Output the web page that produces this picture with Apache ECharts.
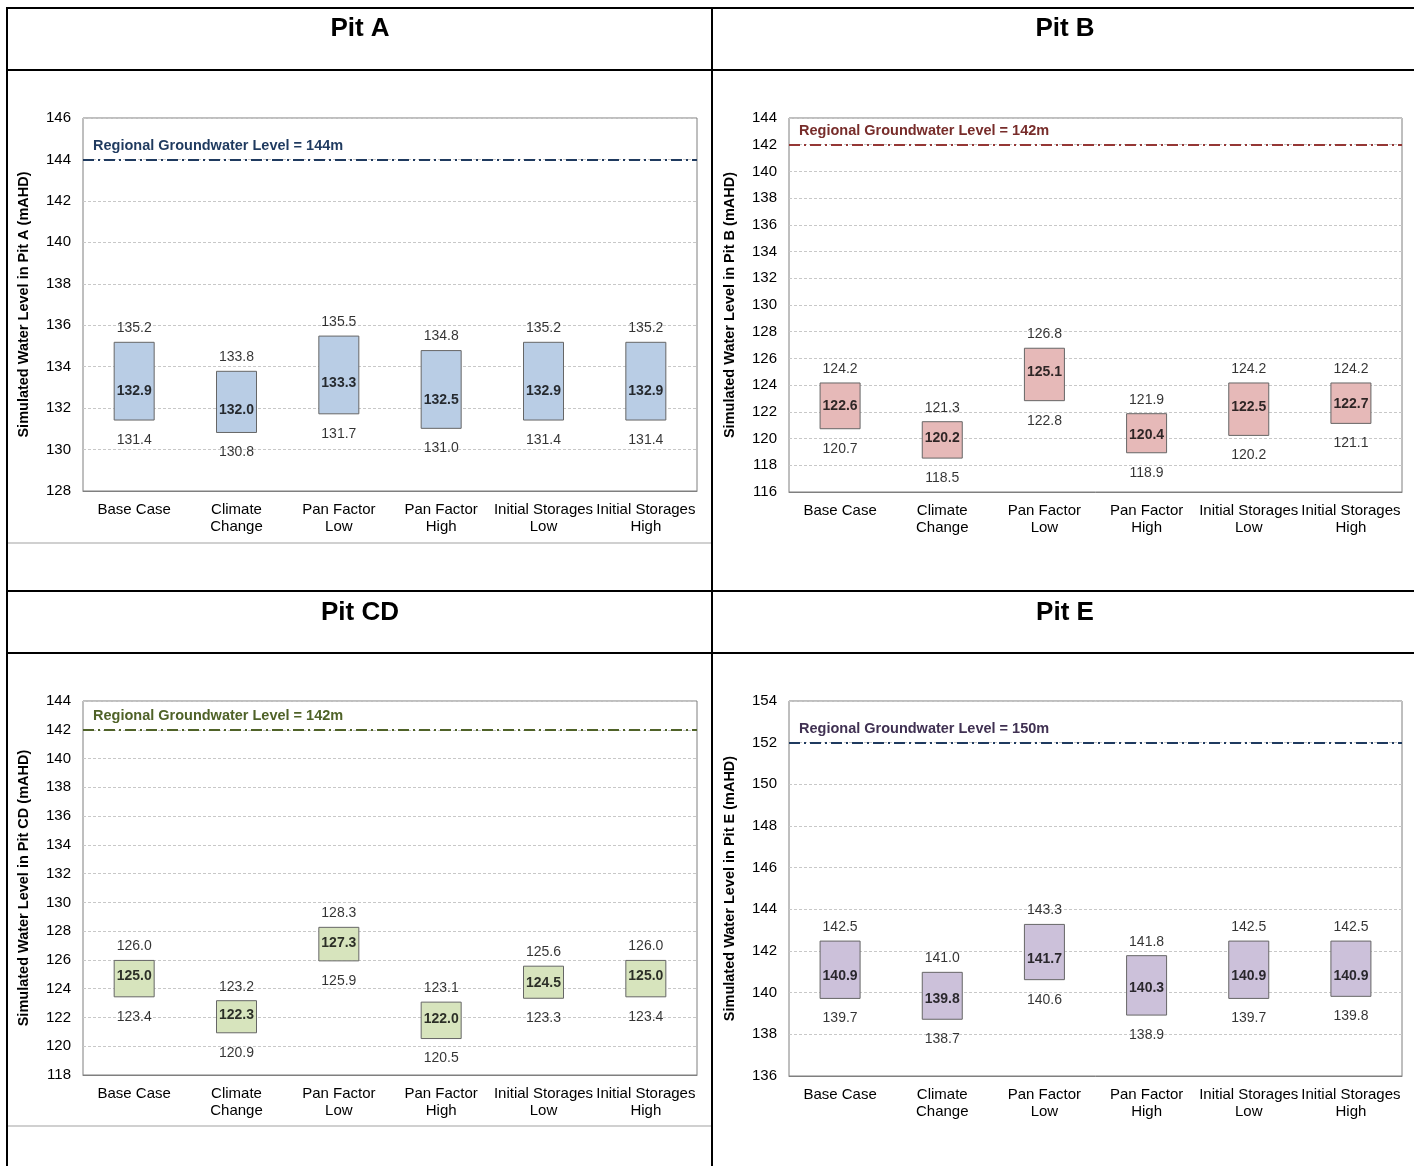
<!DOCTYPE html>
<html>
<head>
<meta charset="utf-8">
<script src="https://cdn.jsdelivr.net/npm/echarts@6/dist/echarts.min.js"></script>
<style>
html,body{margin:0;padding:0;background:#fff;}
#c{width:1414px;height:1166px;}
</style>
</head>
<body>
<div id="c"></div>
<script>
// ---- data ----
const categories = ['Base Case', 'Climate\nChange', 'Pan Factor\nLow', 'Pan Factor\nHigh', 'Initial Storages\nLow', 'Initial Storages\nHigh'];
const pitNames = ['Pit A', 'Pit B', 'Pit CD', 'Pit E'];

const pitAHigh = [135.2, 133.8, 135.5, 134.8, 135.2, 135.2];
const pitAMid  = [132.9, 132.0, 133.3, 132.5, 132.9, 132.9];
const pitALow  = [131.4, 130.8, 131.7, 131.0, 131.4, 131.4];

const pitBHigh = [124.2, 121.3, 126.8, 121.9, 124.2, 124.2];
const pitBMid  = [122.6, 120.2, 125.1, 120.4, 122.5, 122.7];
const pitBLow  = [120.7, 118.5, 122.8, 118.9, 120.2, 121.1];

const pitCDHigh = [126.0, 123.2, 128.3, 123.1, 125.6, 126.0];
const pitCDMid  = [125.0, 122.3, 127.3, 122.0, 124.5, 125.0];
const pitCDLow  = [123.4, 120.9, 125.9, 120.5, 123.3, 123.4];

const pitEHigh = [142.5, 141.0, 143.3, 141.8, 142.5, 142.5];
const pitEMid  = [140.9, 139.8, 141.7, 140.3, 140.9, 140.9];
const pitELow  = [139.7, 138.7, 140.6, 138.9, 139.7, 139.8];

const refLineValues = [144, 142, 142, 152];
const refLineLabels = ['144m', '142m', '142m', '150m'];
const yMins = [128, 116, 118, 136];
const yMaxs = [146, 144, 144, 154];

// ---- styles ----
const FONT = "'Liberation Sans', Arial, sans-serif";
const highs = [pitAHigh, pitBHigh, pitCDHigh, pitEHigh];
const mids = [pitAMid, pitBMid, pitCDMid, pitEMid];
const lows = [pitALow, pitBLow, pitCDLow, pitELow];
const fills = ['#B9CDE5', '#E6B9B8', '#D7E4BD', '#CCC1DA'];
const lineColors = ['#1F3A5F', '#953735', '#4F6228', '#1F3A5F'];
const refTextColors = ['#1F3A5F', '#772C2A', '#4F6228', '#403152'];
const grids = [
  {left: 83, top: 118, width: 614, height: 373},
  {left: 789, top: 118, width: 613, height: 374},
  {left: 83, top: 701, width: 614, height: 374},
  {left: 789, top: 701, width: 613, height: 375}
];
const titlePos = [[360, 29], [1065, 29], [360, 613], [1065, 613]];

const option = {
  backgroundColor: '#fff',
  animation: false,
  grid: [], xAxis: [], yAxis: [], series: [],
  graphic: []
};

const fmt = v => Number(v).toFixed(1);

for (let i = 0; i < 4; i++) {
  option.grid.push(Object.assign({show: true, borderColor: '#7F7F7F', borderWidth: 1, backgroundColor: 'transparent'}, grids[i]));
  option.xAxis.push({
    type: 'category', gridIndex: i, data: categories,
    axisLine: {show: true, lineStyle: {color: '#7F7F7F'}},
    axisTick: {show: false},
    axisLabel: {interval: 0, color: '#000', fontFamily: FONT, fontSize: 15, lineHeight: 17, margin: 10},
    splitLine: {show: false}
  });
  option.yAxis.push({
    type: 'value', gridIndex: i, min: yMins[i], max: yMaxs[i], interval: 2,
    name: 'Simulated Water Level in ' + pitNames[i] + ' (mAHD)',
    nameLocation: 'middle', nameGap: 52,
    nameTextStyle: {fontFamily: FONT, fontSize: 14.5, fontWeight: 'bold', color: '#000'},
    axisLine: {show: false}, axisTick: {show: false},
    axisLabel: {color: '#000', fontFamily: FONT, fontSize: 15, margin: 12},
    splitLine: {show: true, lineStyle: {color: '#C8C8C8', type: [3, 2], width: 1}}
  });
  const hi = highs[i], mi = mids[i], lo = lows[i];
  // invisible base
  option.series.push({
    type: 'bar', xAxisIndex: i, yAxisIndex: i, stack: 'box' + i,
    data: lo, barWidth: 41, silent: true,
    itemStyle: {color: 'transparent'},
    markLine: {
      silent: true, symbol: 'none',
      data: [{yAxis: refLineValues[i]}],
      lineStyle: {color: lineColors[i], type: [11, 4, 2, 4], width: 2},
      label: {
        show: true, position: 'insideStartTop', distance: [10, 6],
        formatter: 'Regional Groundwater Level = ' + refLineLabels[i],
        color: refTextColors[i], fontFamily: FONT, fontSize: 14.5, fontWeight: 'bold'
      }
    }
  });
  // visible range box
  option.series.push({
    type: 'bar', xAxisIndex: i, yAxisIndex: i, stack: 'box' + i,
    data: hi.map((h, k) => +(h - lo[k]).toFixed(2)), barWidth: 41,
    itemStyle: {color: fills[i], borderColor: '#666', borderWidth: 1}
  });
  // labels
  const lbl = (pos, dist, bold, off) => ({
    show: true, position: pos, distance: dist, offset: off || [0, 0],
    formatter: p => fmt(p.value[1]),
    color: '#000', fontFamily: FONT, fontSize: 14, fontWeight: bold ? 'bold' : 'normal'
  });
  option.series.push({
    type: 'scatter', xAxisIndex: i, yAxisIndex: i, symbolSize: 1,
    itemStyle: {color: 'transparent'}, silent: true,
    data: hi.map((v, k) => [k, v]), label: lbl('top', 6, false)
  });
  option.series.push({
    type: 'scatter', xAxisIndex: i, yAxisIndex: i, symbolSize: 1,
    itemStyle: {color: 'transparent'}, silent: true,
    data: lo.map((v, k) => [k, v]), label: lbl('bottom', 12, false)
  });
  option.series.push({
    type: 'scatter', xAxisIndex: i, yAxisIndex: i, symbolSize: 1, z: 5,
    itemStyle: {color: 'transparent'}, silent: true,
    data: mi.map((v, k) => [k, v]), label: lbl('inside', 0, true, [0, 2])
  });
  option.graphic.push({
    type: 'text', x: titlePos[i][0], y: titlePos[i][1],
    style: {text: pitNames[i], font: 'bold 26px ' + FONT, fill: '#000', align: 'center', verticalAlign: 'middle'}
  });
}

// table borders
const hLine = (x1, x2, y, color, w) => ({type: 'line', shape: {x1: x1, y1: y, x2: x2, y2: y}, style: {stroke: color, lineWidth: w}, z: 100});
const vLine = (x, y1, y2, color, w) => ({type: 'line', shape: {x1: x, y1: y1, x2: x, y2: y2}, style: {stroke: color, lineWidth: w}, z: 100});
option.graphic.push(
  hLine(6, 1414, 8, '#000', 2),
  hLine(6, 1414, 70, '#000', 2),
  hLine(6, 1414, 591, '#000', 2),
  hLine(6, 1414, 653, '#000', 2),
  vLine(7, 7, 1166, '#000', 2),
  vLine(712, 7, 1166, '#000', 2),
  hLine(8, 711, 543, '#C0C0C0', 1.5),
  hLine(8, 711, 1126, '#C0C0C0', 1.5)
);

const chart = echarts.init(document.getElementById('c'), null, {renderer: 'canvas'});
chart.setOption(option);
</script>
</body>
</html>
